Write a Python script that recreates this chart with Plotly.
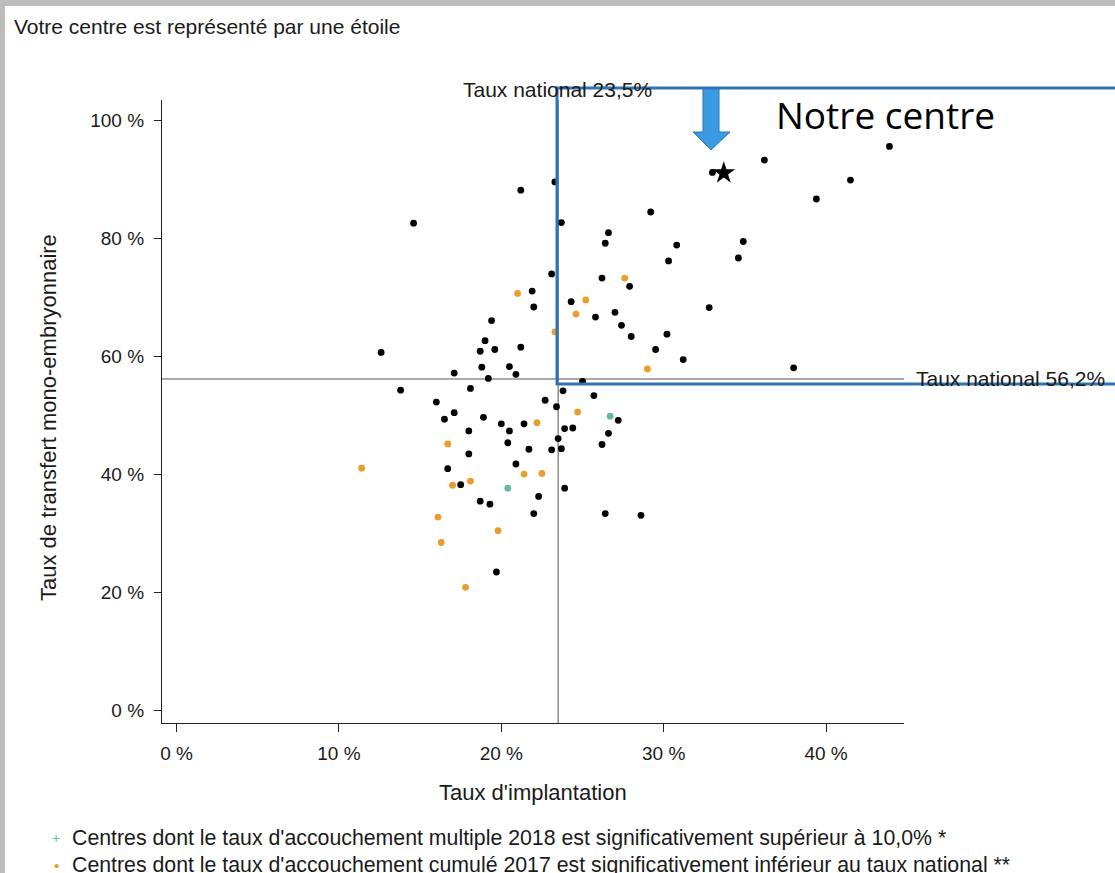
import plotly.graph_objects as go

# ---------------- data (in %) ----------------
black_x = [43.9, 36.2, 33.0, 41.5, 23.3, 39.4, 29.2, 23.7, 26.6, 26.4, 30.8, 34.9, 30.3, 34.6,
           23.1, 26.2, 27.9, 24.3, 25.8, 27.0, 27.4, 32.8, 28.0, 30.2, 29.5, 31.2, 38.0, 25.0,
           21.2, 14.6, 21.9, 22.0, 19.4, 19.0, 18.7, 19.6, 21.2, 12.6, 18.8, 20.5, 17.1, 20.9,
           19.2, 23.8, 13.8, 18.1,
           16.0, 22.7, 25.7, 23.4, 17.1, 16.5, 18.9, 27.2, 20.0, 21.4, 23.9, 24.4, 18.0, 20.5,
           26.6, 23.5, 20.4, 26.2, 21.7, 23.1, 23.7, 18.0, 20.9, 16.7, 17.5, 23.9, 22.3, 18.7,
           19.3, 22.0, 26.4, 19.7, 28.6]
black_y = [95.6, 93.3, 91.2, 89.9, 89.6, 86.7, 84.5, 82.7, 81.0, 79.2, 78.9, 79.5, 76.2, 76.7,
           74.0, 73.3, 71.9, 69.3, 66.7, 67.5, 65.3, 68.3, 63.4, 63.8, 61.2, 59.5, 58.1, 55.8,
           88.2, 82.6, 71.1, 68.4, 66.1, 62.7, 60.9, 61.2, 61.6, 60.7, 58.2, 58.3, 57.2, 57.0,
           56.3, 54.2, 54.3, 54.6,
           52.3, 52.6, 53.4, 51.5, 50.5, 49.4, 49.7, 49.2, 48.6, 48.6, 47.8, 47.9, 47.4, 47.4,
           47.0, 46.1, 45.4, 45.1, 44.3, 44.2, 44.4, 43.5, 41.8, 41.0, 38.3, 37.7, 36.3, 35.5,
           35.0, 33.4, 33.4, 23.5, 33.1]

orange_x = [27.6, 25.2, 24.6, 23.3, 29.0, 21.0, 24.7, 22.2, 16.7, 11.4, 21.4, 22.5, 17.0,
            18.1, 16.1, 19.8, 16.3, 17.8]
orange_y = [73.3, 69.6, 67.2, 64.2, 57.9, 70.7, 50.6, 48.8, 45.2, 41.1, 40.1, 40.2, 38.2,
            38.9, 32.8, 30.5, 28.5, 20.9]

teal_x = [26.7, 20.4]
teal_y = [49.9, 37.7]

star_x = [33.7]
star_y = [91.1]

national_x = 23.5   # Taux national d'implantation
national_y = 56.2   # Taux national transfert mono-embryonnaire

x_ticks = [0, 10, 20, 30, 40]
x_tick_labels = ["0 %", "10 %", "20 %", "30 %", "40 %"]
y_ticks = [0, 20, 40, 60, 80, 100]
y_tick_labels = ["0 %", "20 %", "40 %", "60 %", "80 %", "100 %"]

# ---------------- layout geometry ----------------
W, H = 1115, 873
L, R, T, B = 162, 904, 100, 723


def pxx(x):
    return (x - L) / (R - L)


def pxy(y):
    return (B - y) / (B - T)


FONT = "Liberation Sans, Arial, sans-serif"
TXT = "#1a1a1a"

fig = go.Figure()
fig.add_trace(go.Scatter(x=black_x, y=black_y, mode="markers",
                         marker=dict(size=6.8, color="#000000"), showlegend=False, cliponaxis=False))
fig.add_trace(go.Scatter(x=orange_x, y=orange_y, mode="markers",
                         marker=dict(size=6.8, color="#E89E2A"), showlegend=False, cliponaxis=False))
fig.add_trace(go.Scatter(x=teal_x, y=teal_y, mode="markers",
                         marker=dict(size=6.8, color="#62B9A4"), showlegend=False, cliponaxis=False))
fig.add_trace(go.Scatter(x=star_x, y=star_y, mode="markers",
                         marker=dict(size=17, color="#000000", symbol="star"), showlegend=False,
                         cliponaxis=False))

shapes = [
    # national lines
    dict(type="line", xref="x", yref="paper", x0=national_x, x1=national_x, y0=0, y1=1,
         line=dict(color="#555555", width=1), layer="below"),
    dict(type="line", xref="paper", yref="y", x0=0, x1=1, y0=national_y, y1=national_y,
         line=dict(color="#555555", width=1), layer="below"),
    # grey frame of the screenshot
    dict(type="rect", xref="paper", yref="paper", x0=pxx(-5), x1=pxx(W + 5), y0=pxy(6), y1=pxy(-5),
         line=dict(width=0), fillcolor="#bdbdbd"),
    dict(type="rect", xref="paper", yref="paper", x0=pxx(-5), x1=pxx(5), y0=pxy(H + 5), y1=pxy(-5),
         line=dict(width=0), fillcolor="#bdbdbd"),
    # highlight rectangle
    dict(type="rect", xref="paper", yref="paper", x0=pxx(557), x1=pxx(W + 20), y0=pxy(384), y1=pxy(88),
         line=dict(color="#2E75B6", width=3)),
]
# down arrow
ax = [703, 719, 719, 730, 711, 693, 703]
ay = [89, 89, 132, 132, 150, 132, 132]
path = "M " + " L ".join(f"{pxx(a)},{pxy(b)}" for a, b in zip(ax, ay)) + " Z"
shapes.append(dict(type="path", xref="paper", yref="paper", path=path,
                   fillcolor="#3A9BE3", line=dict(color="#2E75B6", width=1)))

ann = [
    dict(text="Votre centre est représenté par une étoile", x=pxx(12), y=pxy(26),
         xanchor="left", yanchor="middle", font=dict(size=21, color=TXT, family=FONT)),
    dict(text="Taux national 23,5%", x=pxx(557), y=pxy(90), xanchor="center", yanchor="middle",
         font=dict(size=21, color=TXT, family=FONT)),
    dict(text="Taux national 56,2%", x=pxx(914), y=pxy(378), xanchor="left", yanchor="middle",
         font=dict(size=21, color=TXT, family=FONT)),
    dict(text="Notre centre", x=pxx(885), y=pxy(114), xanchor="center", yanchor="middle",
         font=dict(size=37, color="#000000", family="Open Sans, Noto Sans, sans-serif")),
    dict(text="Taux de transfert mono-embryonnaire", x=pxx(48), y=pxy(418), textangle=-90,
         xanchor="center", yanchor="middle", font=dict(size=22, color=TXT, family=FONT)),
    dict(text="Taux d'implantation", x=pxx(533), y=pxy(792), xanchor="center", yanchor="middle",
         font=dict(size=22, color=TXT, family=FONT)),
    dict(text="+", x=pxx(56), y=pxy(838), xanchor="center", yanchor="middle",
         font=dict(size=14, color="#62B9A4", family=FONT)),
    dict(text="Centres dont le taux d'accouchement multiple 2018 est significativement supérieur à 10,0% *",
         x=pxx(70), y=pxy(838), xanchor="left", yanchor="middle",
         font=dict(size=21.3, color=TXT, family=FONT)),
    dict(text="•", x=pxx(56), y=pxy(865), xanchor="center", yanchor="middle",
         font=dict(size=15, color="#E89E2A", family=FONT)),
    dict(text="Centres dont le taux d'accouchement cumulé 2017 est significativement inférieur au taux national **",
         x=pxx(70), y=pxy(865), xanchor="left", yanchor="middle",
         font=dict(size=21.3, color=TXT, family=FONT)),
]
for a in ann:
    a.update(xref="paper", yref="paper", showarrow=False)

x_min = -14.5 / 16.24
y_min = -12.3 / 5.902
fig.update_layout(
    width=W, height=H,
    margin=dict(l=L, r=W - R, t=T, b=H - B, pad=0),
    paper_bgcolor="white", plot_bgcolor="white",
    shapes=shapes, annotations=ann,
    xaxis=dict(range=[x_min, x_min + (R - L) / 16.24], tickvals=x_ticks, ticktext=x_tick_labels,
               showgrid=False, zeroline=False, showline=True, linecolor="#222222", linewidth=1.3,
               ticks="outside", ticklen=8, tickwidth=1.2, tickcolor="#222222",
               tickfont=dict(size=19, color=TXT, family=FONT), ticklabelstandoff=5),
    yaxis=dict(range=[y_min, y_min + (B - T) / 5.902], tickvals=y_ticks, ticktext=y_tick_labels,
               showgrid=False, zeroline=False, showline=True, linecolor="#222222", linewidth=1.3,
               ticks="outside", ticklen=7, tickwidth=1.2, tickcolor="#222222",
               tickfont=dict(size=19, color=TXT, family=FONT), ticklabelstandoff=6),
)

fig.write_html("out.html", config={"displayModeBar": False},
               post_script="document.body.style.margin='0';document.body.style.overflow='hidden';")
